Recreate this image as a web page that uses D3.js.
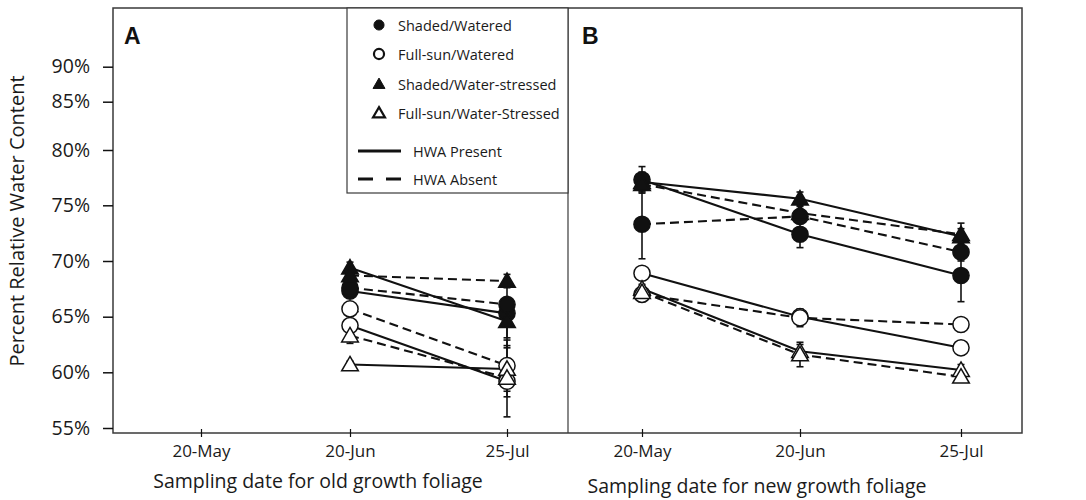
<!DOCTYPE html>
<html><head><meta charset="utf-8">
<script src="https://cdn.jsdelivr.net/npm/d3@7"></script>
<style>
html,body{margin:0;padding:0;background:#fff;}
svg{display:block;font-family:"Open Sans",sans-serif;}
</style></head>
<body>
<svg id="chart" width="1086" height="500"></svg>
<script>
// ---------- DATA ----------
const dateLabels = ["20-May", "20-Jun", "25-Jul"];
const dateDays = [140, 171, 206];            // day of year of each sampling date
const yTicks = [55, 60, 65, 70, 75, 80, 85, 90];
const treatments = ["Shaded/Watered", "Full-sun/Watered", "Shaded/Water-stressed", "Full-sun/Water-Stressed"];
const treatmentShape = ["circle", "circle", "triangle", "triangle"];
const treatmentFill = ["filled", "open", "filled", "open"];
const hwaLabels = ["HWA Present", "HWA Absent"];

// Panel A (old growth foliage): sampled 20-Jun and 25-Jul
const aDays = [171, 206];
const aSWPresent = [67.3, 65.3], aSWPresentErr = [0.4, 3.1];
const aSWAbsent = [67.6, 66.1], aSWAbsentErr = [0.4, 0.6];
const aFWPresent = [64.2, 59.2], aFWPresentErr = [0.3, 3.2];
const aFWAbsent = [65.7, 60.6], aFWAbsentErr = [0.3, 2.3];
const aSWSPresent = [69.4, 64.6], aSWSPresentErr = [0.5, 1.5];
const aSWSAbsent = [68.7, 68.2], aSWSAbsentErr = [0.4, 0.6];
const aFWSPresent = [60.7, 60.3], aFWSPresentErr = [0.3, 0.6];
const aFWSAbsent = [63.3, 59.5], aFWSAbsentErr = [0.7, 1.7];

// Panel B (new growth foliage): sampled 20-May, 20-Jun, 25-Jul
const bDays = [140, 171, 206];
const bSWPresent = [77.3, 72.4, 68.7], bSWPresentErr = [1.2, 1.2, 2.35];
const bSWAbsent = [73.3, 74.0, 70.8], bSWAbsentErr = [3.1, 0.6, 0.8];
const bFWPresent = [68.9, 65.0, 62.2], bFWPresentErr = [0.4, 0.6, 0.5];
const bFWAbsent = [67.0, 64.9, 64.3], bFWAbsentErr = [0.3, 0.8, 0.5];
const bSWSPresent = [77.1, 75.6, 72.2], bSWSPresentErr = [0.9, 0.6, 1.2];
const bSWSAbsent = [76.9, 74.3, 72.4], bSWSAbsentErr = [0.6, 0.6, 0.5];
const bFWSPresent = [67.5, 61.9, 60.2], bFWSPresentErr = [0.4, 0.6, 0.5];
const bFWSAbsent = [67.2, 61.6, 59.6], bFWSAbsentErr = [0.4, 1.1, 0.4];

// ---------- BUILD SERIES ----------
function mk(days, vals, errs, t, hwa) {
  return { t, hwa, pts: days.map((d, i) => ({ d, v: vals[i], e: errs[i] })) };
}
const seriesA = [
  mk(aDays, aSWPresent, aSWPresentErr, 0, 0), mk(aDays, aSWAbsent, aSWAbsentErr, 0, 1),
  mk(aDays, aFWPresent, aFWPresentErr, 1, 0), mk(aDays, aFWAbsent, aFWAbsentErr, 1, 1),
  mk(aDays, aSWSPresent, aSWSPresentErr, 2, 0), mk(aDays, aSWSAbsent, aSWSAbsentErr, 2, 1),
  mk(aDays, aFWSPresent, aFWSPresentErr, 3, 0), mk(aDays, aFWSAbsent, aFWSAbsentErr, 3, 1)
];
const seriesB = [
  mk(bDays, bSWPresent, bSWPresentErr, 0, 0), mk(bDays, bSWAbsent, bSWAbsentErr, 0, 1),
  mk(bDays, bFWPresent, bFWPresentErr, 1, 0), mk(bDays, bFWAbsent, bFWAbsentErr, 1, 1),
  mk(bDays, bSWSPresent, bSWSPresentErr, 2, 0), mk(bDays, bSWSAbsent, bSWSAbsentErr, 2, 1),
  mk(bDays, bFWSPresent, bFWSPresentErr, 3, 0), mk(bDays, bFWSAbsent, bFWSAbsentErr, 3, 1)
];

// ---------- LAYOUT ----------
const frame = { left: 113, top: 8, right: 1022, bottom: 433 };
const divider = 568;
const ink = "#111";
const frameCol = "#3a3a3a";

const svg = d3.select("#chart");

// polylinear y scale (the original axis spacing is not uniform above 80%)
const y = d3.scaleLinear()
  .domain(yTicks)
  .range([428, 372.3, 316.7, 261, 205.3, 150, 101.7, 66.7]);

const xA = d3.scaleLinear().domain(dateDays).range([201, 350, 507]);
const xB = d3.scaleLinear().domain(dateDays).range([642, 800, 961]);

// frame
svg.append("rect")
  .attr("x", frame.left).attr("y", frame.top)
  .attr("width", frame.right - frame.left).attr("height", frame.bottom - frame.top)
  .attr("fill", "none").attr("stroke", frameCol).attr("stroke-width", 1.5);
svg.append("line")
  .attr("x1", divider).attr("x2", divider).attr("y1", frame.top).attr("y2", frame.bottom)
  .attr("stroke", frameCol).attr("stroke-width", 1.2);

// y axis
const yAxis = d3.axisLeft(y).tickValues(yTicks).tickFormat(d => d + "%").tickSize(10).tickPadding(13);
const gy = svg.append("g").attr("transform", `translate(${frame.left},0)`).call(yAxis);
gy.select(".domain").remove();
gy.selectAll(".tick line").attr("stroke", ink).attr("stroke-width", 1.5);
gy.selectAll(".tick text").attr("fill", "#1a1a1a").style("font-size", "19.5px").style("font-family", "'Open Sans',sans-serif");

// x axes
function xAxisDraw(scale) {
  const ax = d3.axisBottom(scale).tickValues(dateDays)
    .tickFormat((d, i) => dateLabels[i]).tickSizeInner(4).tickSizeOuter(0).tickPadding(8);
  const g = svg.append("g").attr("transform", `translate(0,${frame.bottom})`).call(ax);
  g.select(".domain").remove();
  g.selectAll(".tick line").attr("y1", -4).attr("y2", 4).attr("stroke", ink).attr("stroke-width", 1.2);
  g.selectAll(".tick text").attr("fill", "#1a1a1a").style("font-size", "17px")
    .style("font-family", "'Open Sans',sans-serif").attr("dy", "0.71em");
}
xAxisDraw(xA);
xAxisDraw(xB);

// axis titles
svg.append("text").attr("transform", "translate(19,221) rotate(-90)")
  .attr("text-anchor", "middle").attr("dominant-baseline", "middle")
  .style("font-size", "20px").attr("fill", "#1a1a1a").text("Percent Relative Water Content");
svg.append("text").attr("x", 318).attr("y", 488).attr("text-anchor", "middle")
  .style("font-size", "19.5px").attr("fill", "#1a1a1a").text("Sampling date for old growth foliage");
svg.append("text").attr("x", 757).attr("y", 493).attr("text-anchor", "middle")
  .style("font-size", "19.5px").attr("fill", "#1a1a1a").text("Sampling date for new growth foliage");

// panel labels
svg.append("text").attr("x", 124).attr("y", 44).style("font-family", "'Liberation Sans',Arial,sans-serif")
  .style("font-weight", "bold").style("font-size", "23px").attr("fill", "#111").text("A");
svg.append("text").attr("x", 582).attr("y", 44).style("font-family", "'Liberation Sans',Arial,sans-serif")
  .style("font-weight", "bold").style("font-size", "23px").attr("fill", "#111").text("B");

// ---------- MARKS ----------
const symCircle = d3.symbol().type(d3.symbolCircle).size(205);
const symTri = d3.symbol().type(d3.symbolTriangle).size(120);

function drawPanel(series, x) {
  const g = svg.append("g");
  const line = d3.line().x(p => x(p.d)).y(p => y(p.v));
  // lines
  g.selectAll("path.ser").data(series).join("path")
    .attr("class", "ser")
    .attr("d", s => line(s.pts))
    .attr("fill", "none").attr("stroke", ink).attr("stroke-width", 2.1)
    .attr("stroke-dasharray", s => s.hwa === 1 ? "9,5" : null);
  // error bars
  const allPts = series.flatMap(s => s.pts.map(p => ({ ...p, t: s.t, hwa: s.hwa })));
  const eg = g.append("g");
  allPts.forEach(p => {
    const cx = x(p.d), y1 = y(p.v - p.e), y2 = y(p.v + p.e);
    eg.append("line").attr("x1", cx).attr("x2", cx).attr("y1", y1).attr("y2", y2)
      .attr("stroke", ink).attr("stroke-width", 1.6);
    [y1, y2].forEach(yy => eg.append("line").attr("x1", cx - 3.5).attr("x2", cx + 3.5)
      .attr("y1", yy).attr("y2", yy).attr("stroke", ink).attr("stroke-width", 1.6));
  });
  // markers
  g.selectAll("path.mk").data(allPts).join("path")
    .attr("class", "mk")
    .attr("transform", p => `translate(${x(p.d)},${y(p.v) + (treatmentShape[p.t] === "triangle" ? 1.5 : 0)})`)
    .attr("d", p => treatmentShape[p.t] === "circle" ? symCircle() : symTri())
    .attr("fill", p => treatmentFill[p.t] === "filled" ? "#111" : "#fff")
    .attr("stroke", "#111").attr("stroke-width", 1.5);
}
drawPanel(seriesA, xA);
drawPanel(seriesB, xB);

// ---------- LEGEND ----------
const lg = svg.append("g");
lg.append("rect").attr("x", 347).attr("y", frame.top).attr("width", divider - 347).attr("height", 193 - frame.top)
  .attr("fill", "#fff").attr("stroke", frameCol).attr("stroke-width", 1.2);
const legRowsY = [25, 54, 84, 113];
const legSymC = d3.symbol().type(d3.symbolCircle).size(80);
const legSymT = d3.symbol().type(d3.symbolTriangle).size(62);
treatments.forEach((name, i) => {
  const cy = legRowsY[i];
  lg.append("path").attr("transform", `translate(379,${cy + (treatmentShape[i] === "triangle" ? 1 : 0)})`)
    .attr("d", treatmentShape[i] === "circle" ? legSymC() : legSymT())
    .attr("fill", treatmentFill[i] === "filled" ? "#111" : "#fff")
    .attr("stroke", "#111").attr("stroke-width", treatmentFill[i] === "filled" ? 1 : 2.2);
  lg.append("text").attr("x", 398).attr("y", cy).attr("dominant-baseline", "central")
    .style("font-size", "14.5px").attr("fill", "#1a1a1a").text(name);
});
const legLineY = [151, 179];
hwaLabels.forEach((name, i) => {
  lg.append("line").attr("x1", 358).attr("x2", 401).attr("y1", legLineY[i]).attr("y2", legLineY[i])
    .attr("stroke", ink).attr("stroke-width", 2.8)
    .attr("stroke-dasharray", i === 1 ? "15,13" : null);
  lg.append("text").attr("x", 413).attr("y", legLineY[i]).attr("dominant-baseline", "central")
    .style("font-size", "14.5px").attr("fill", "#1a1a1a").text(name);
});
</script>
</body></html>
